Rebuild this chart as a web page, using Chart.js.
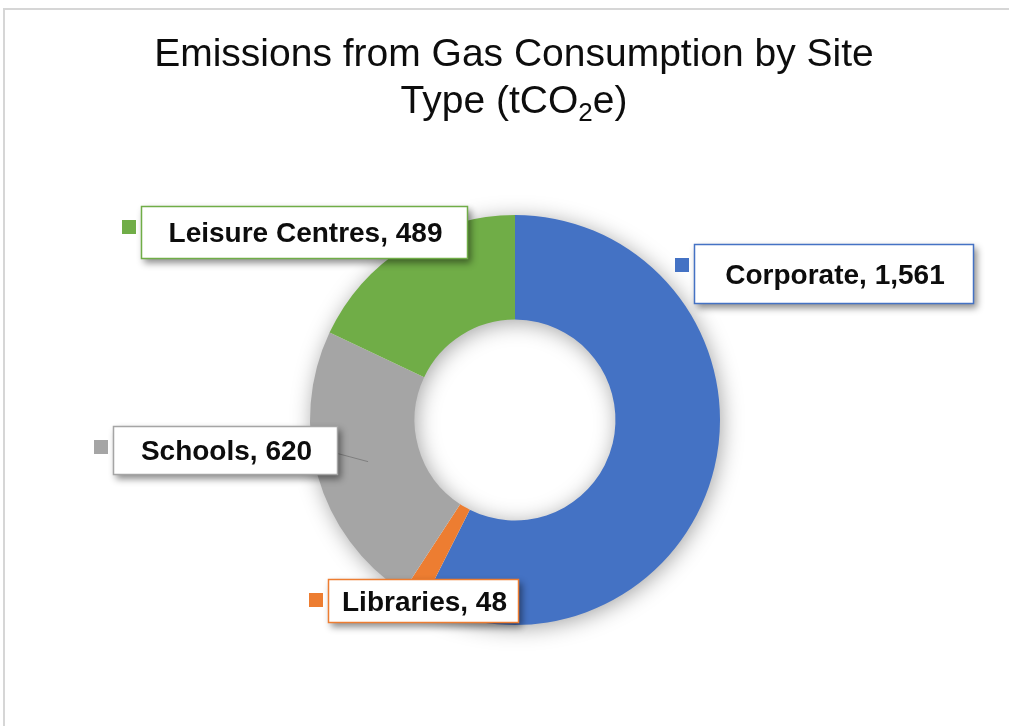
<!DOCTYPE html>
<html>
<head>
<meta charset="utf-8">
<script src="https://cdn.jsdelivr.net/npm/chart.js@4"></script>
<style>
  html, body { margin: 0; padding: 0; background: #ffffff; }
  #frame {
    position: absolute; left: 3px; top: 8px; right: -10px; bottom: -10px;
    border-top: 2px solid #d6d6d6; border-left: 2px solid #d6d6d6;
  }
  canvas { position: absolute; left: 0; top: 0; }
</style>
</head>
<body>
<div id="frame"></div>
<canvas id="chart" width="1009" height="726"></canvas>
<script>
const siteTypes = ['Corporate', 'Libraries', 'Schools', 'Leisure Centres']
const emissions = [1561, 48, 620, 489]
const sliceColors = ['#4472C4', '#ED7D31', '#A5A5A5', '#70AD47']

Chart.defaults.font.family = "'Liberation Sans', Arial, sans-serif"

// label boxes: centre offset from the doughnut centre, box size
const labelBoxes = [
  { dx: 319, dy: -146, w: 280, h: 60 },
  { dx: -92, dy: 181, w: 191, h: 44 },
  { dx: -290, dy: 30, w: 225, h: 49 },
  { dx: -211, dy: -188, w: 327, h: 53 },
]

const ringShadow = {
  id: 'ringShadow',
  beforeDatasetsDraw(chart) {
    const arc = chart.getDatasetMeta(0).data[0]
    const { x, y, outerRadius, innerRadius } = arc
    const ctx = chart.ctx
    ctx.save()
    ctx.shadowColor = 'rgba(0,0,0,0.38)'
    ctx.shadowBlur = 22
    ctx.shadowOffsetX = 2
    ctx.shadowOffsetY = 3
    ctx.beginPath()
    ctx.arc(x, y, outerRadius - 1, 0, Math.PI * 2)
    ctx.arc(x, y, innerRadius + 1, 0, Math.PI * 2, true)
    ctx.fillStyle = '#ffffff'
    ctx.fill('evenodd')
    ctx.restore()
  },
}

const formatValue = (v) => v.toLocaleString('en-GB')

const sliceLabels = {
  id: 'sliceLabels',
  afterDatasetsDraw(chart) {
    const ctx = chart.ctx
    const meta = chart.getDatasetMeta(0)
    const { x: cx, y: cy } = meta.data[0]
    const values = chart.data.datasets[0].data

    // leader line from the schools box into the middle of its slice
    const schools = meta.data[2]
    const mid = (schools.startAngle + schools.endAngle) / 2
    const r = (schools.innerRadius + schools.outerRadius) / 2
    const sb = labelBoxes[2]
    ctx.save()
    ctx.strokeStyle = '#7f7f7f'
    ctx.lineWidth = 1
    ctx.beginPath()
    ctx.moveTo(cx + sb.dx + sb.w / 2, cy + sb.dy - sb.h / 2 + 28)
    ctx.lineTo(cx + Math.cos(mid) * r, cy + Math.sin(mid) * r)
    ctx.stroke()
    ctx.restore()

    chart.data.labels.forEach((label, i) => {
      const b = labelBoxes[i]
      const left = Math.round(cx + b.dx - b.w / 2)
      const top = Math.round(cy + b.dy - b.h / 2)
      const color = sliceColors[i]

      ctx.save()
      ctx.shadowColor = 'rgba(0,0,0,0.45)'
      ctx.shadowBlur = 7
      ctx.shadowOffsetX = 3
      ctx.shadowOffsetY = 4
      ctx.fillStyle = '#ffffff'
      ctx.fillRect(left, top, b.w, b.h)
      ctx.restore()

      ctx.save()
      ctx.strokeStyle = color
      ctx.lineWidth = 1.5
      ctx.strokeRect(left + 0.5, top + 0.5, b.w - 1, b.h - 1)

      // legend key square just left of the box
      ctx.fillStyle = color
      ctx.fillRect(left - 19, top + 14, 14, 14)

      ctx.fillStyle = '#0d0d0d'
      ctx.font = "bold 28px 'Liberation Sans', Arial, sans-serif"
      ctx.textAlign = 'center'
      ctx.textBaseline = 'middle'
      ctx.fillText(label + ', ' + formatValue(values[i]), left + b.w / 2 + 1, top + b.h / 2 + 2)
      ctx.restore()
    })
  },
}

const chartTitle = {
  id: 'chartTitle',
  afterDraw(chart) {
    const ctx = chart.ctx
    const midX = 514
    const big = "39px 'Liberation Sans', Arial, sans-serif"
    const small = "26px 'Liberation Sans', Arial, sans-serif"
    ctx.save()
    ctx.fillStyle = '#0d0d0d'
    ctx.textBaseline = 'alphabetic'
    ctx.font = big
    ctx.textAlign = 'center'
    ctx.fillText('Emissions from Gas Consumption by Site', midX, 66)

    // second line has a subscript, so measure the pieces
    const a = 'Type (tCO', sub = '2', c = 'e)'
    const wa = ctx.measureText(a).width
    const wc = ctx.measureText(c).width
    ctx.font = small
    const ws = ctx.measureText(sub).width
    let x = midX - (wa + ws + wc) / 2
    ctx.textAlign = 'left'
    ctx.font = big
    ctx.fillText(a, x, 113)
    x += wa
    ctx.font = small
    ctx.fillText(sub, x, 121)
    x += ws
    ctx.font = big
    ctx.fillText(c, x, 113)
    ctx.restore()
  },
}

new Chart(document.getElementById('chart'), {
  type: 'doughnut',
  data: {
    labels: siteTypes,
    datasets: [
      {
        data: emissions,
        backgroundColor: sliceColors,
        borderWidth: 0,
        hoverOffset: 0,
        offset: 0,
      },
    ],
  },
  options: {
    responsive: false,
    animation: false,
    events: [],
    devicePixelRatio: 1,
    cutout: '49%',
    layout: {
      padding: { left: 310, right: 289, top: 215, bottom: 101 },
    },
    plugins: {
      legend: { display: false },
      tooltip: { enabled: false },
      title: { display: false },
    },
  },
  plugins: [ringShadow, sliceLabels, chartTitle],
})
</script>
</body>
</html>
